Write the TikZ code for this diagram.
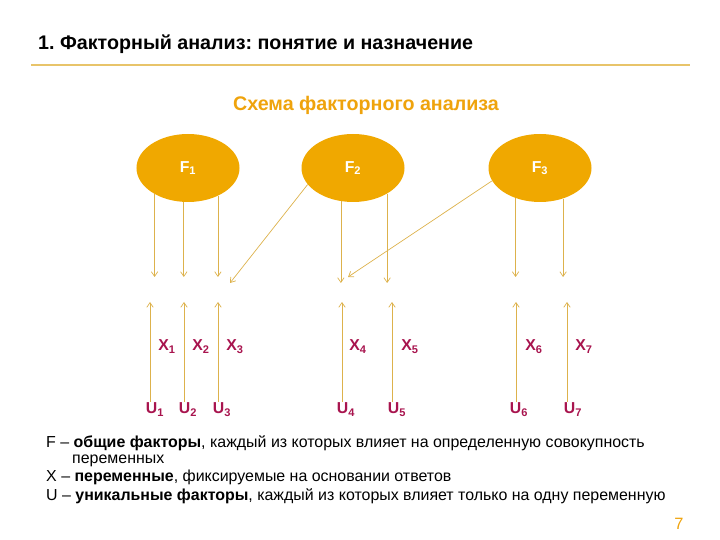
\documentclass[tikz,border=0pt]{standalone}
\usepackage{fontspec}
\setmainfont{Liberation Sans}
\usepackage{xcolor}
\usetikzlibrary{shapes, arrows.meta, positioning}
\frenchspacing

\definecolor{factorgold}{HTML}{F0A800}
\definecolor{headgold}{HTML}{EFA30C}
\definecolor{rulegold}{HTML}{E8C46A}
\definecolor{arrowgold}{HTML}{DDB24C}
\definecolor{varred}{HTML}{A8144E}

\begin{document}
\begin{tikzpicture}[x=0.03cm, y=-0.03cm, >={Straight Barb[length=4pt, width=5.5pt]}]
        \useasboundingbox (0,0) rectangle (720,540);

        % Title
        \node[anchor=base west, inner sep=0, font=\bfseries\fontsize{16.8}{19}\selectfont] (title) at (38,50) {1. Факторный анализ: понятие и назначение};
        \draw[rulegold, line width=1pt] (31,65) -- (690,65);

        % Subtitle
        \node[anchor=base, inner sep=0, text=headgold, font=\bfseries\fontsize{16.8}{19}\selectfont] (subtitle) at (366,111) {Схема факторного анализа};

        % Factors
        \node[ellipse, fill=factorgold, minimum width=3.09cm, minimum height=2.04cm, text=white, font=\bfseries\fontsize{13.5}{16}\selectfont] (f1) at (188,168) {F\textsubscript{1}};
        \node[ellipse, fill=factorgold, minimum width=3.09cm, minimum height=2.04cm, text=white, font=\bfseries\fontsize{13.5}{16}\selectfont] (f2) at (353,168) {F\textsubscript{2}};
        \node[ellipse, fill=factorgold, minimum width=3.09cm, minimum height=2.04cm, text=white, font=\bfseries\fontsize{13.5}{16}\selectfont] (f3) at (540,168) {F\textsubscript{3}};

        % Arrows from factors
        \foreach \f/\ang/\x/\y [count=\i] in {f1/218/155/277, f1/263/184/277, f1/317/218/277, f2/250/341/283, f2/323/387/283, f3/231/516/277, f3/307/563/277} {
            \coordinate (d\i) at (\x,\y);
            \draw[->, arrowgold, line width=0.6pt] (\f.\ang) -- (\f.\ang |- d\i);
        }
        \coordinate (s2) at (230,283);
        \coordinate (s3) at (348,277);
        \draw[->, arrowgold, line width=0.6pt] (f2.200) -- (s2);
        \draw[->, arrowgold, line width=0.6pt] (f3.195) -- (s3);

        % Variables
        \foreach \x [count=\i] in {167,201,235,358,410,534,584} {
            \node[anchor=base, inner sep=1pt, text=varred, font=\bfseries\fontsize{13.5}{16}\selectfont] (x\i) at (\x,351) {X\textsubscript{\i}};
        }

        % Unique factors
        \foreach \x/\a [count=\i] in {155/150,188/184,222/218,346/342,397/392,519/516,573/567} {
            \node[anchor=base, inner sep=1pt, text=varred, font=\bfseries\fontsize{13.5}{16}\selectfont] (u\i) at (\x,414) {U\textsubscript{\i}};
            \coordinate (a\i) at (\a,302);
            \draw[->, arrowgold, line width=0.6pt] (u\i.north -| a\i) -- (a\i);
        }

        % Legend
        \node[anchor=base west, inner sep=0, font=\fontsize{13.6}{16}\selectfont] (legf) at (46,447) {F -- \textbf{общие факторы}, каждый из которых влияет на определенную совокупность};
        \node[anchor=base west, inner sep=0, font=\fontsize{13.6}{16}\selectfont] (legf2) at (72,463) {переменных};
        \node[anchor=base west, inner sep=0, font=\fontsize{13.6}{16}\selectfont] (legx) at (46,481) {X -- \textbf{переменные}, фиксируемые на основании ответов};
        \node[anchor=base west, inner sep=0, font=\fontsize{13.6}{16}\selectfont] (legu) at (46,500) {U -- \textbf{уникальные факторы}, каждый из которых влияет только на одну переменную};

        % Page number
        \node[anchor=base, inner sep=0, text=headgold, font=\fontsize{14}{16}\selectfont] (page) at (679,529) {7};
\end{tikzpicture}
\end{document}
